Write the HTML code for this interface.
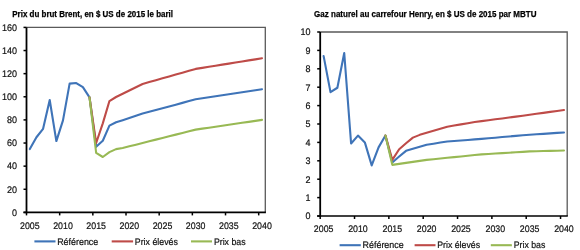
<!DOCTYPE html>
<html><head><meta charset="utf-8"><style>
html,body{margin:0;padding:0;background:#fff;}
body{width:580px;height:250px;overflow:hidden;}
svg{display:block;will-change:transform;}
.t{font-family:"Liberation Sans",sans-serif;font-weight:bold;font-size:9px;fill:#000;stroke:#000;stroke-width:0.25px;}
.a{font-family:"Liberation Sans",sans-serif;font-size:9.5px;text-rendering:geometricPrecision;fill:#111;stroke:#111;stroke-width:0.2px;}
</style></head><body>
<svg width="580" height="250" viewBox="0 0 580 250">
<text x="12.3" y="16.6" class="t" textLength="160.7" lengthAdjust="spacingAndGlyphs">Prix du brut Brent, en $ US de 2015 le baril</text>
<path d="M26.5,27.4 H265.3 V212.4" fill="none" stroke="#5a5a5a" stroke-width="1.3"/>
<line x1="23.5" y1="212.40" x2="26.5" y2="212.40" stroke="#000" stroke-width="1.5"/>
<text x="17" y="215.70" class="a" text-anchor="end" textLength="5.0" lengthAdjust="spacingAndGlyphs">0</text>
<line x1="23.5" y1="189.28" x2="26.5" y2="189.28" stroke="#000" stroke-width="1.5"/>
<text x="17" y="192.58" class="a" text-anchor="end" textLength="10.0" lengthAdjust="spacingAndGlyphs">20</text>
<line x1="23.5" y1="166.15" x2="26.5" y2="166.15" stroke="#000" stroke-width="1.5"/>
<text x="17" y="169.45" class="a" text-anchor="end" textLength="10.0" lengthAdjust="spacingAndGlyphs">40</text>
<line x1="23.5" y1="143.03" x2="26.5" y2="143.03" stroke="#000" stroke-width="1.5"/>
<text x="17" y="146.33" class="a" text-anchor="end" textLength="10.0" lengthAdjust="spacingAndGlyphs">60</text>
<line x1="23.5" y1="119.90" x2="26.5" y2="119.90" stroke="#000" stroke-width="1.5"/>
<text x="17" y="123.20" class="a" text-anchor="end" textLength="10.0" lengthAdjust="spacingAndGlyphs">80</text>
<line x1="23.5" y1="96.78" x2="26.5" y2="96.78" stroke="#000" stroke-width="1.5"/>
<text x="17" y="100.08" class="a" text-anchor="end" textLength="15.0" lengthAdjust="spacingAndGlyphs">100</text>
<line x1="23.5" y1="73.65" x2="26.5" y2="73.65" stroke="#000" stroke-width="1.5"/>
<text x="17" y="76.95" class="a" text-anchor="end" textLength="15.0" lengthAdjust="spacingAndGlyphs">120</text>
<line x1="23.5" y1="50.53" x2="26.5" y2="50.53" stroke="#000" stroke-width="1.5"/>
<text x="17" y="53.83" class="a" text-anchor="end" textLength="15.0" lengthAdjust="spacingAndGlyphs">140</text>
<line x1="23.5" y1="27.40" x2="26.5" y2="27.40" stroke="#000" stroke-width="1.5"/>
<text x="17" y="30.70" class="a" text-anchor="end" textLength="15.0" lengthAdjust="spacingAndGlyphs">160</text>
<line x1="26.50" y1="212.4" x2="26.50" y2="215.4" stroke="#000" stroke-width="1.5"/>
<text x="29.82" y="228.7" class="a" text-anchor="middle" textLength="19.6" lengthAdjust="spacingAndGlyphs">2005</text>
<line x1="59.67" y1="212.4" x2="59.67" y2="215.4" stroke="#000" stroke-width="1.5"/>
<text x="62.99" y="228.7" class="a" text-anchor="middle" textLength="19.6" lengthAdjust="spacingAndGlyphs">2010</text>
<line x1="92.84" y1="212.4" x2="92.84" y2="215.4" stroke="#000" stroke-width="1.5"/>
<text x="96.16" y="228.7" class="a" text-anchor="middle" textLength="19.6" lengthAdjust="spacingAndGlyphs">2015</text>
<line x1="126.01" y1="212.4" x2="126.01" y2="215.4" stroke="#000" stroke-width="1.5"/>
<text x="129.33" y="228.7" class="a" text-anchor="middle" textLength="19.6" lengthAdjust="spacingAndGlyphs">2020</text>
<line x1="159.18" y1="212.4" x2="159.18" y2="215.4" stroke="#000" stroke-width="1.5"/>
<text x="162.50" y="228.7" class="a" text-anchor="middle" textLength="19.6" lengthAdjust="spacingAndGlyphs">2025</text>
<line x1="192.35" y1="212.4" x2="192.35" y2="215.4" stroke="#000" stroke-width="1.5"/>
<text x="195.67" y="228.7" class="a" text-anchor="middle" textLength="19.6" lengthAdjust="spacingAndGlyphs">2030</text>
<line x1="225.52" y1="212.4" x2="225.52" y2="215.4" stroke="#000" stroke-width="1.5"/>
<text x="228.84" y="228.7" class="a" text-anchor="middle" textLength="19.6" lengthAdjust="spacingAndGlyphs">2035</text>
<line x1="258.69" y1="212.4" x2="258.69" y2="215.4" stroke="#000" stroke-width="1.5"/>
<text x="262.01" y="228.7" class="a" text-anchor="middle" textLength="19.6" lengthAdjust="spacingAndGlyphs">2040</text>
<line x1="26.5" y1="27.4" x2="26.5" y2="213.20000000000002" stroke="#000" stroke-width="1.8"/>
<line x1="23.5" y1="212.4" x2="265.90000000000003" y2="212.4" stroke="#000" stroke-width="1.6"/>
<path d="M29.82,149.04 L36.45,137.24 L43.09,128.80 L49.72,100.01 L56.35,141.06 L62.99,120.36 L69.62,83.59 L76.25,83.02 L82.89,87.18 L89.52,97.35 L96.16,146.84 L102.79,140.71 L109.43,125.68 L116.06,122.21 L122.69,120.13 L129.33,117.93 L135.96,115.74 L142.59,113.54 L149.23,111.76 L155.86,109.99 L162.50,108.21 L169.13,106.43 L175.77,104.65 L182.40,102.87 L189.03,101.10 L195.67,99.32 L202.30,98.31 L208.94,97.31 L215.57,96.30 L222.20,95.30 L228.84,94.29 L235.47,93.28 L242.11,92.28 L248.74,91.27 L255.37,90.27 L262.01,89.26" fill="none" stroke="#3f74b8" stroke-width="2.1" stroke-linejoin="round" stroke-linecap="round"/>
<path d="M89.52,97.35 L96.16,143.03 L102.79,123.37 L109.43,101.05 L116.06,97.01 L122.69,93.74 L129.33,90.47 L135.96,87.21 L142.59,83.94 L149.23,82.06 L155.86,80.18 L162.50,78.30 L169.13,76.43 L175.77,74.55 L182.40,72.67 L189.03,70.79 L195.67,68.91 L202.30,67.85 L208.94,66.78 L215.57,65.72 L222.20,64.65 L228.84,63.59 L235.47,62.53 L242.11,61.46 L248.74,60.40 L255.37,59.34 L262.01,58.27" fill="none" stroke="#be4b48" stroke-width="2.1" stroke-linejoin="round" stroke-linecap="round"/>
<path d="M89.52,97.35 L96.16,152.97 L102.79,157.02 L109.43,152.16 L116.06,149.15 L122.69,148.00 L129.33,146.33 L135.96,144.65 L142.59,142.98 L149.23,141.31 L155.86,139.64 L162.50,137.97 L169.13,136.30 L175.77,134.63 L182.40,132.96 L189.03,131.28 L195.67,129.61 L202.30,128.64 L208.94,127.67 L215.57,126.70 L222.20,125.73 L228.84,124.76 L235.47,123.79 L242.11,122.81 L248.74,121.84 L255.37,120.87 L262.01,119.90" fill="none" stroke="#98b954" stroke-width="2.1" stroke-linejoin="round" stroke-linecap="round"/>
<text x="314.1" y="16.6" class="t" textLength="222.4" lengthAdjust="spacingAndGlyphs">Gaz naturel au carrefour Henry, en $ US de 2015 par MBTU</text>
<path d="M320.2,32 H567.2 V216" fill="none" stroke="#5a5a5a" stroke-width="1.3"/>
<line x1="317.2" y1="216.00" x2="320.2" y2="216.00" stroke="#000" stroke-width="1.5"/>
<text x="310.6" y="219.30" class="a" text-anchor="end" textLength="5.0" lengthAdjust="spacingAndGlyphs">0</text>
<line x1="317.2" y1="197.60" x2="320.2" y2="197.60" stroke="#000" stroke-width="1.5"/>
<text x="310.6" y="200.90" class="a" text-anchor="end" textLength="5.0" lengthAdjust="spacingAndGlyphs">1</text>
<line x1="317.2" y1="179.20" x2="320.2" y2="179.20" stroke="#000" stroke-width="1.5"/>
<text x="310.6" y="182.50" class="a" text-anchor="end" textLength="5.0" lengthAdjust="spacingAndGlyphs">2</text>
<line x1="317.2" y1="160.80" x2="320.2" y2="160.80" stroke="#000" stroke-width="1.5"/>
<text x="310.6" y="164.10" class="a" text-anchor="end" textLength="5.0" lengthAdjust="spacingAndGlyphs">3</text>
<line x1="317.2" y1="142.40" x2="320.2" y2="142.40" stroke="#000" stroke-width="1.5"/>
<text x="310.6" y="145.70" class="a" text-anchor="end" textLength="5.0" lengthAdjust="spacingAndGlyphs">4</text>
<line x1="317.2" y1="124.00" x2="320.2" y2="124.00" stroke="#000" stroke-width="1.5"/>
<text x="310.6" y="127.30" class="a" text-anchor="end" textLength="5.0" lengthAdjust="spacingAndGlyphs">5</text>
<line x1="317.2" y1="105.60" x2="320.2" y2="105.60" stroke="#000" stroke-width="1.5"/>
<text x="310.6" y="108.90" class="a" text-anchor="end" textLength="5.0" lengthAdjust="spacingAndGlyphs">6</text>
<line x1="317.2" y1="87.20" x2="320.2" y2="87.20" stroke="#000" stroke-width="1.5"/>
<text x="310.6" y="90.50" class="a" text-anchor="end" textLength="5.0" lengthAdjust="spacingAndGlyphs">7</text>
<line x1="317.2" y1="68.80" x2="320.2" y2="68.80" stroke="#000" stroke-width="1.5"/>
<text x="310.6" y="72.10" class="a" text-anchor="end" textLength="5.0" lengthAdjust="spacingAndGlyphs">8</text>
<line x1="317.2" y1="50.40" x2="320.2" y2="50.40" stroke="#000" stroke-width="1.5"/>
<text x="310.6" y="53.70" class="a" text-anchor="end" textLength="5.0" lengthAdjust="spacingAndGlyphs">9</text>
<line x1="317.2" y1="32.00" x2="320.2" y2="32.00" stroke="#000" stroke-width="1.5"/>
<text x="310.6" y="35.30" class="a" text-anchor="end" textLength="10.0" lengthAdjust="spacingAndGlyphs">10</text>
<line x1="320.20" y1="216" x2="320.20" y2="219" stroke="#000" stroke-width="1.5"/>
<text x="323.63" y="232.3" class="a" text-anchor="middle" textLength="19.6" lengthAdjust="spacingAndGlyphs">2005</text>
<line x1="354.53" y1="216" x2="354.53" y2="219" stroke="#000" stroke-width="1.5"/>
<text x="357.97" y="232.3" class="a" text-anchor="middle" textLength="19.6" lengthAdjust="spacingAndGlyphs">2010</text>
<line x1="388.87" y1="216" x2="388.87" y2="219" stroke="#000" stroke-width="1.5"/>
<text x="392.30" y="232.3" class="a" text-anchor="middle" textLength="19.6" lengthAdjust="spacingAndGlyphs">2015</text>
<line x1="423.20" y1="216" x2="423.20" y2="219" stroke="#000" stroke-width="1.5"/>
<text x="426.64" y="232.3" class="a" text-anchor="middle" textLength="19.6" lengthAdjust="spacingAndGlyphs">2020</text>
<line x1="457.54" y1="216" x2="457.54" y2="219" stroke="#000" stroke-width="1.5"/>
<text x="460.97" y="232.3" class="a" text-anchor="middle" textLength="19.6" lengthAdjust="spacingAndGlyphs">2025</text>
<line x1="491.88" y1="216" x2="491.88" y2="219" stroke="#000" stroke-width="1.5"/>
<text x="495.31" y="232.3" class="a" text-anchor="middle" textLength="19.6" lengthAdjust="spacingAndGlyphs">2030</text>
<line x1="526.21" y1="216" x2="526.21" y2="219" stroke="#000" stroke-width="1.5"/>
<text x="529.64" y="232.3" class="a" text-anchor="middle" textLength="19.6" lengthAdjust="spacingAndGlyphs">2035</text>
<line x1="560.54" y1="216" x2="560.54" y2="219" stroke="#000" stroke-width="1.5"/>
<text x="563.98" y="232.3" class="a" text-anchor="middle" textLength="19.6" lengthAdjust="spacingAndGlyphs">2040</text>
<line x1="320.2" y1="32" x2="320.2" y2="216.8" stroke="#000" stroke-width="1.8"/>
<line x1="317.2" y1="216" x2="567.8000000000001" y2="216" stroke="#000" stroke-width="1.6"/>
<path d="M323.63,56.10 L330.50,92.17 L337.37,87.75 L344.23,52.98 L351.10,143.50 L357.97,135.59 L364.84,142.40 L371.70,165.40 L378.57,147.37 L385.44,135.59 L392.30,162.46 L399.17,156.57 L406.04,150.86 L412.90,148.84 L419.77,146.82 L426.64,144.79 L433.51,143.69 L440.37,142.58 L447.24,141.48 L454.11,140.96 L460.97,140.45 L467.84,139.93 L474.71,139.42 L481.57,138.90 L488.44,138.29 L495.31,137.68 L502.18,137.06 L509.04,136.45 L515.91,135.84 L522.78,135.22 L529.64,134.76 L536.51,134.30 L543.38,133.84 L550.24,133.38 L557.11,132.92 L563.98,132.46" fill="none" stroke="#3f74b8" stroke-width="2.1" stroke-linejoin="round" stroke-linecap="round"/>
<path d="M385.44,135.59 L392.30,159.88 L399.17,149.21 L406.04,143.32 L412.90,137.62 L419.77,134.86 L426.64,132.83 L433.51,130.81 L440.37,128.78 L447.24,126.76 L454.11,125.56 L460.97,124.37 L467.84,123.17 L474.71,121.98 L481.57,121.09 L488.44,120.20 L495.31,119.31 L502.18,118.42 L509.04,117.53 L515.91,116.64 L522.78,115.69 L529.64,114.75 L536.51,113.80 L543.38,112.85 L550.24,111.91 L557.11,110.96 L563.98,110.02" fill="none" stroke="#be4b48" stroke-width="2.1" stroke-linejoin="round" stroke-linecap="round"/>
<path d="M385.44,135.59 L392.30,164.85 L399.17,163.85 L406.04,162.86 L412.90,161.87 L419.77,160.87 L426.64,159.88 L433.51,159.19 L440.37,158.50 L447.24,157.81 L454.11,157.12 L460.97,156.43 L467.84,155.74 L474.71,155.05 L481.57,154.36 L488.44,153.94 L495.31,153.52 L502.18,153.10 L509.04,152.68 L515.91,152.26 L522.78,151.84 L529.64,151.42 L536.51,151.23 L543.38,151.05 L550.24,150.86 L557.11,150.68 L563.98,150.50" fill="none" stroke="#98b954" stroke-width="2.1" stroke-linejoin="round" stroke-linecap="round"/>
<line x1="34.4" y1="241.4" x2="55.5" y2="241.4" stroke="#3f74b8" stroke-width="2.1"/>
<text x="57.2" y="244.50" class="a" textLength="41.1" lengthAdjust="spacingAndGlyphs">Référence</text>
<line x1="111.7" y1="241.4" x2="133.1" y2="241.4" stroke="#be4b48" stroke-width="2.1"/>
<text x="134.8" y="244.50" class="a" textLength="43.1" lengthAdjust="spacingAndGlyphs">Prix élevés</text>
<line x1="191" y1="241.4" x2="212" y2="241.4" stroke="#98b954" stroke-width="2.1"/>
<text x="213.9" y="244.50" class="a" textLength="31.7" lengthAdjust="spacingAndGlyphs">Prix bas</text>
<line x1="339.6" y1="245.2" x2="360.8" y2="245.2" stroke="#3f74b8" stroke-width="2.1"/>
<text x="362.6" y="247.80" class="a" textLength="41.1" lengthAdjust="spacingAndGlyphs">Référence</text>
<line x1="414.6" y1="245.2" x2="435.5" y2="245.2" stroke="#be4b48" stroke-width="2.1"/>
<text x="437.2" y="247.80" class="a" textLength="42.9" lengthAdjust="spacingAndGlyphs">Prix élevés</text>
<line x1="490.8" y1="245.2" x2="511.9" y2="245.2" stroke="#98b954" stroke-width="2.1"/>
<text x="513.7" y="247.80" class="a" textLength="31.6" lengthAdjust="spacingAndGlyphs">Prix bas</text>
</svg>
</body></html>
